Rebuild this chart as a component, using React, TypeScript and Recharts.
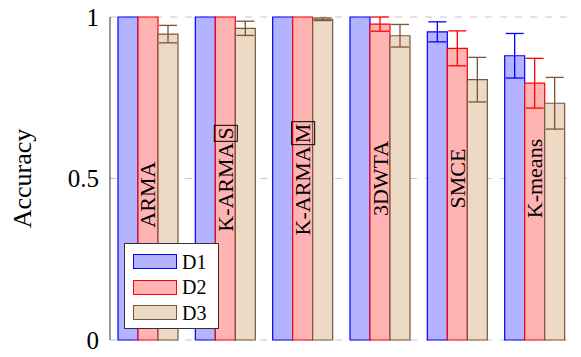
import { BarChart, Bar, XAxis, YAxis, CartesianGrid, ErrorBar, Legend, LabelList } from 'recharts'

const categories = ['ARMA', 'K-ARMA[S]', 'K-ARMA[M]', '3DWTA', 'SMCE', 'K-means']
const d1 = [1, 1, 1, 1, 0.954, 0.88]
const d1Err = [0, 0, 0, 0, 0.031, 0.069]
const d2 = [1, 1, 1, 0.978, 0.903, 0.795]
const d2Err = [0, 0, 0, 0.022, 0.054, 0.077]
const d3 = [0.947, 0.965, 0.993, 0.942, 0.806, 0.733]
const d3Err = [0.027, 0.022, 0.004, 0.035, 0.069, 0.08]
const yTicks = [0, 0.5, 1]

const data = categories.map((name, i) => ({
  name,
  D1: d1[i], e1: d1Err[i],
  D2: d2[i], e2: d2Err[i],
  D3: d3[i], e3: d3Err[i],
}))

const series = [
  { key: 'D1', err: 'e1', fill: '#b3b3ff', stroke: '#0000ff' },
  { key: 'D2', err: 'e2', fill: '#ffb3b3', stroke: '#ff0000' },
  { key: 'D3', err: 'e3', fill: '#ecdac6', stroke: '#7a5535' },
]

const serif = '"Liberation Serif", serif'
// where the rotated name sits inside the bar, in accuracy units
const labelCenter = [0.45, 0.5, 0.5, 0.5, 0.5, 0.5]

function BarName(props: any) {
  const { x, y, width, height, index } = props
  const name = categories[index]
  const scale = height / d2[index]
  const cx = x + width / 2
  const cy = y + height - labelCenter[index] * scale
  const m = name.match(/^(.*)\[(.*)\]$/)
  const w = 170
  const h = 30
  return (
    <g transform={`rotate(-90 ${cx} ${cy})`}>
      <foreignObject x={cx - w / 2} y={cy - h / 2} width={w} height={h}>
        <div style={{ width: w, height: h, display: 'flex', alignItems: 'center', justifyContent: 'center', font: `22px ${serif}`, lineHeight: 1, whiteSpace: 'nowrap', color: '#000' }}>
          {m ? m[1] : name}
          {m && <span style={{ border: '1px solid #000', padding: '0 1px', marginLeft: 1 }}>{m[2]}</span>}
        </div>
      </foreignObject>
    </g>
  )
}

function LegendBox() {
  return (
    <div style={{ width: 95, height: 86, boxSizing: 'border-box', border: '1px solid #333', background: '#fff', padding: '5px 0 0 8px' }}>
      {series.map((s) => (
        <div key={s.key} style={{ height: 25.5, display: 'flex', alignItems: 'center' }}>
          <div style={{ width: 44, height: 15, boxSizing: 'border-box', border: `1.5px solid ${s.stroke}`, background: s.fill }} />
          <span style={{ marginLeft: 5, font: `20px ${serif}`, lineHeight: 1 }}>{s.key}</span>
        </div>
      ))}
    </div>
  )
}

export default function App() {
  return (
    <div style={{ position: 'absolute', left: 0, top: 0, background: '#fff' }}>
      <BarChart width={581} height={357} data={data} margin={{ top: 17, right: 7, bottom: 17, left: 0 }} barCategoryGap={8} barGap={0}>
        <CartesianGrid vertical={false} stroke="#c8c8c8" strokeDasharray="7 8" />
        {series.map((s, i) => (
          <Bar key={s.key} dataKey={s.key} fill={s.fill} stroke={s.stroke} strokeWidth={1.2} isAnimationActive={false}>
            <ErrorBar dataKey={s.err} width={9} stroke={s.stroke} strokeWidth={1.3} />
            {i === 1 && <LabelList dataKey="D2" content={BarName} />}
          </Bar>
        ))}
        <XAxis dataKey="name" tick={false} tickLine={false} height={0} axisLine={{ stroke: '#333' }} />
        <XAxis xAxisId="top" orientation="top" dataKey="name" tick={false} tickLine={false} height={0} axisLine={{ stroke: '#333' }} />
        <YAxis
          width={110}
          domain={[0, 1]}
          ticks={yTicks}
          tickSize={0}
          tickMargin={11}
          axisLine={{ stroke: '#333' }}
          tick={{ fontSize: 25, fill: '#000', fontFamily: serif }}
          label={{ value: 'Accuracy', angle: -90, position: 'insideLeft', offset: 22, style: { textAnchor: 'middle', fontSize: 26, fill: '#000', fontFamily: serif } }}
        />
        <YAxis yAxisId="right" orientation="right" width={0} domain={[0, 1]} tick={false} tickLine={false} axisLine={{ stroke: '#333' }} />
        <Legend layout="vertical" align="center" verticalAlign="middle" content={() => <LegendBox />} wrapperStyle={{ left: 124, top: 243, width: 95, height: 86 }} />
      </BarChart>
    </div>
  )
}
